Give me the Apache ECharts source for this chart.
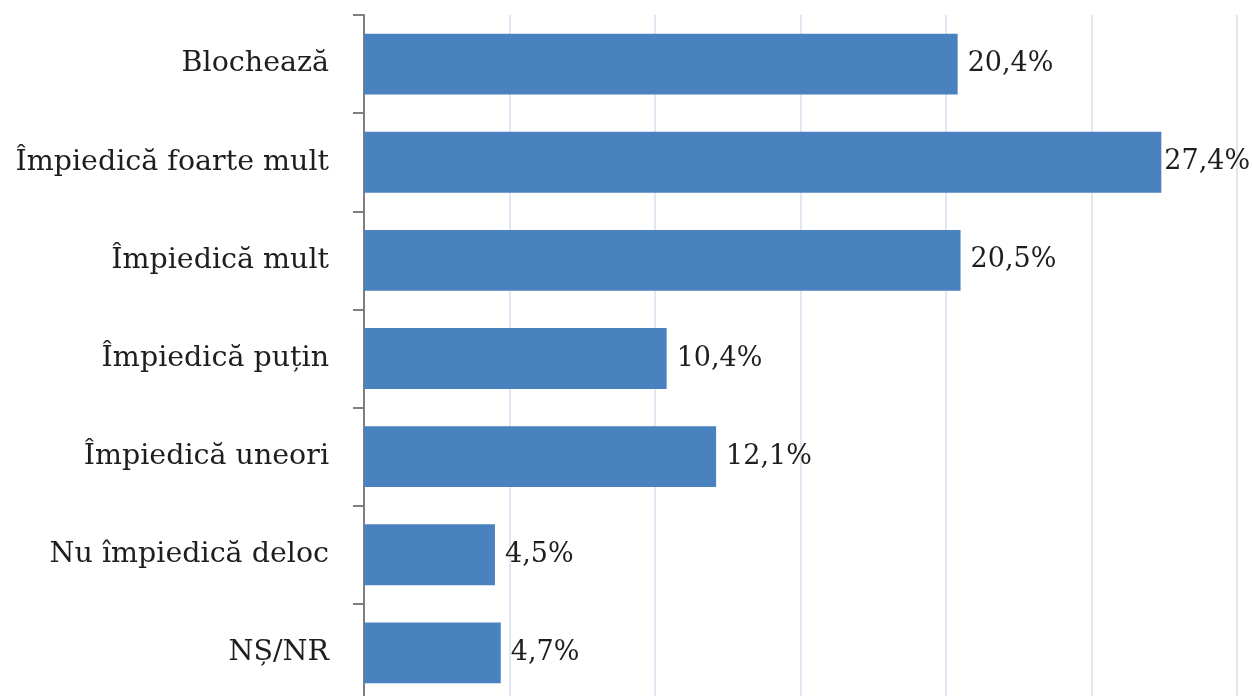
<!DOCTYPE html>
<html>
<head>
<meta charset="utf-8">
<script src="https://cdn.jsdelivr.net/npm/echarts@6/dist/echarts.min.js"></script>
<style>
  html, body { margin: 0; padding: 0; background: #fff; overflow: hidden; }
  /* chart is a bit taller than the window: the last category band runs past the bottom edge */
  #chart { width: 1253px; height: 702px; }
</style>
</head>
<body>
<div id="chart"></div>
<script>
// categories from top to bottom
const categories = ['Blochează', 'Împiedică foarte mult', 'Împiedică mult', 'Împiedică puțin', 'Împiedică uneori', 'Nu împiedică deloc', 'NȘ/NR']
const values = [20.4, 27.4, 20.5, 10.4, 12.1, 4.5, 4.7]

const fontFamily = '"DejaVu Serif", serif'

// the longest bar's label sits closer to the bar so it fits
const seriesData = values.map((v, i) => {
  const item = { value: v }
  if (v === Math.max(...values)) item.label = { distance: 3 }
  return item
})

const chart = echarts.init(document.getElementById('chart'))
chart.setOption({
  animation: false,
  grid: { left: 364, right: 16, top: 15, bottom: 0, containLabel: false },
  xAxis: {
    type: 'value',
    min: 0,
    max: 30,
    interval: 5,
    axisLabel: { show: false },
    axisLine: { show: false },
    axisTick: { show: false },
    splitLine: { lineStyle: { color: '#dfe8f3', width: 2 } }
  },
  yAxis: {
    type: 'category',
    inverse: true,
    data: categories,
    axisLine: { show: true, lineStyle: { color: '#7f7f7f', width: 2 } },
    axisTick: { show: true, length: 11, lineStyle: { color: '#7f7f7f', width: 2 } },
    axisLabel: { color: '#1e1e1e', fontFamily: fontFamily, fontSize: 28.5, margin: 35 }
  },
  series: [{
    type: 'bar',
    data: seriesData,
    barCategoryGap: '38%',
    itemStyle: { color: '#4a81bf' },
    label: {
      show: true,
      position: 'right',
      distance: 10,
      color: '#1e1e1e',
      fontFamily: fontFamily,
      fontSize: 27,
      formatter: p => String(p.value).replace('.', ',') + '%'
    }
  }]
})
</script>
</body>
</html>
